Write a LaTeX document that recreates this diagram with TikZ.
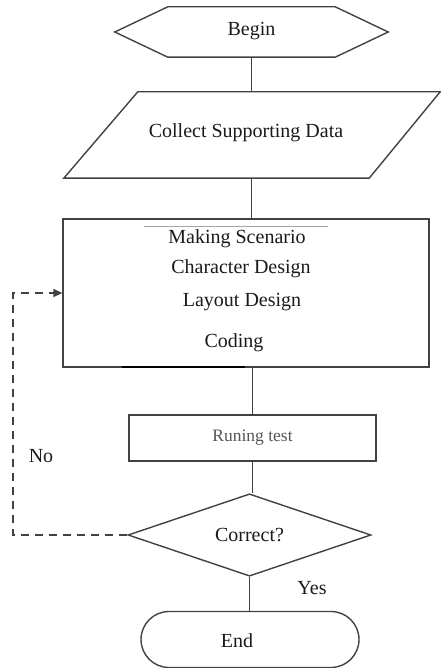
\documentclass[tikz,border=0pt]{standalone}
\usepackage{fontspec}
\setmainfont{Liberation Serif}
\usetikzlibrary{arrows.meta, positioning, shapes.geometric, shapes.misc}
\definecolor{lnclr}{HTML}{424242}
\definecolor{txclr}{HTML}{1A1A1A}
\definecolor{dimtx}{HTML}{555555}

\begin{document}
\begin{tikzpicture}[
  x=1pt, y=-1pt,
  >={Triangle[length=9pt, width=8pt]},
  base/.style={draw=lnclr, line width=1.4pt, fill=white, text=txclr,
    font=\fontsize{20}{24}\selectfont, inner sep=0pt},
  frame/.style={minimum width=#1, inner sep=0pt},
  procbox/.style={base, rectangle, minimum width=#1},
  decbox/.style={base, diamond, minimum width=243pt, minimum height=71pt},
  termbox/.style={base, rounded rectangle, minimum width=218pt, minimum height=56pt},
  lbl/.style={text=txclr, font=\fontsize{20}{24}\selectfont, inner sep=0pt},
  flow/.style={draw=lnclr, line width=1.4pt},
  noarr/.style={flow, dashed, dash pattern=on 8pt off 6pt, ->},
]

\useasboundingbox (0,0) rectangle (440,668);

% =============================================
% Main column
% =============================================

% Begin (hexagon)
\node[frame=273pt, minimum height=50pt] (begin) at (251.5,32) {};
\draw[flow] (begin.west) -- ([xshift=53pt]begin.north west)
  -- ([xshift=-53pt]begin.north east) -- (begin.east)
  -- ([xshift=-53pt]begin.south east) -- ([xshift=53pt]begin.south west) -- cycle;
\node[lbl] (begintx) at (251.5,31) {Begin};

% Collect (parallelogram)
\node[frame=376pt, minimum height=86pt] (collect) at (252,135) {};
\draw[flow] ([xshift=74pt]collect.north west) -- (collect.north east)
  -- ([xshift=-71pt]collect.south east) -- (collect.south west) -- cycle;
\node[lbl] (collecttx) at (246,133) {Collect Supporting Data};

% Work steps
\node[procbox=366pt, minimum height=148pt] (work) at (246,293) {};
\node[lbl] (scen) at (237,239) {Making Scenario};
\node[lbl] (chard) at (241,269) {Character Design};
\node[lbl] (layd) at (242,302) {Layout Design};
\node[lbl] (code) at (234,343) {Coding};

\node[procbox=247pt, minimum height=46pt, text=dimtx,
  font=\fontsize{17.5}{21}\selectfont] (test) at (252.5,438) {Runing test};

\node[decbox] (check) at (249.5,535) {Correct?};

\node[termbox] (end) at (250,639.5) {};
\node[lbl] (endtx) at (237,641) {End};

% small strokes left on the box edges
\draw[black!35, line width=1pt] (144,226) -- (328,226);
\draw[black, line width=2pt] (122,367) -- (245,367);

% =============================================
% Connectors
% =============================================
\draw[flow] (begin.south) -- (collect.north -| begin.south);
\draw[flow] (collect.south -| begin.south) -- (work.north -| begin.south);
\draw[flow] (work.south -| test.north) -- (test.north);
\draw[flow] (test.south) -- (check.north -| test.south);
\draw[flow] (check.south) -- (end.north -| check.south);

% loop back when the test fails
\coordinate (back) at (13,535);
\draw[noarr] (check.west) -- (back) |- (work.west);

\node[lbl] (no) at (41,456) {No};
\node[lbl] (yes) at (312,588) {Yes};

\end{tikzpicture}
\end{document}
